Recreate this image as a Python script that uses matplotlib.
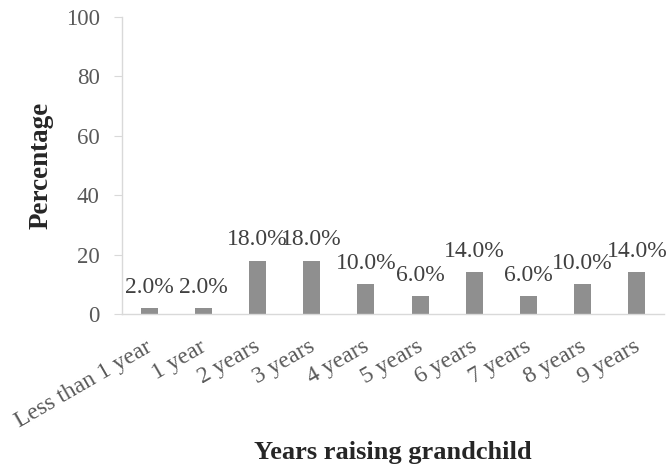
import matplotlib
matplotlib.use("Agg")
import matplotlib.pyplot as plt

categories = ["Less than 1 year", "1 year", "2 years", "3 years", "4 years",
              "5 years", "6 years", "7 years", "8 years", "9 years"]
values = [2.0, 2.0, 18.0, 18.0, 10.0, 6.0, 14.0, 6.0, 10.0, 14.0]
yticks = [0, 20, 40, 60, 80, 100]

plt.rcParams['font.family'] = ['Liberation Serif', 'DejaVu Serif']

fig = plt.figure(figsize=(6.72, 4.71), dpi=100)
ax = fig.add_axes([122/672, 1 - 314/471, (664-122)/672, (314-17)/471])

x = list(range(len(categories)))
ax.bar(x, values, width=0.31, color='#8f8f8f', zorder=2)
for xi, v in zip(x, values):
    ax.text(xi, v + 3.4, f"{v:.1f}%", ha='center', va='bottom', fontsize=17, color='#404040')

ax.set_xlim(-0.5, len(categories) - 0.5)
ax.set_ylim(0, 100)
ax.set_yticks(yticks)
ax.set_yticklabels([str(t) for t in yticks], fontsize=16.5, color='#595959')
ax.set_xticks(x)
ax.set_xticklabels(categories, rotation=30, ha='right', rotation_mode='anchor',
                   fontsize=17, color='#595959')
ax.tick_params(axis='x', length=0, pad=16)
ax.tick_params(axis='y', length=6, color='#d9d9d9', pad=10)

import matplotlib.transforms as mtransforms
offset = mtransforms.ScaledTranslation(-4/100, 0, fig.dpi_scale_trans)
for lbl in ax.get_xticklabels():
    lbl.set_transform(lbl.get_transform() + offset)

for s in ['top', 'right']:
    ax.spines[s].set_visible(False)
for s in ['left', 'bottom']:
    ax.spines[s].set_color('#d9d9d9')
    ax.spines[s].set_linewidth(1.0)

ax.set_ylabel("Percentage", fontsize=19.5, fontweight='bold', color='#262626')
ax.yaxis.set_label_coords(-0.127, 0.5)
fig.text((122+664)/2/672, 1 - 453/471, "Years raising grandchild", fontsize=19,
         fontweight='bold', color='#262626', ha='center', va='center')

fig.savefig("out.png", dpi=100)
